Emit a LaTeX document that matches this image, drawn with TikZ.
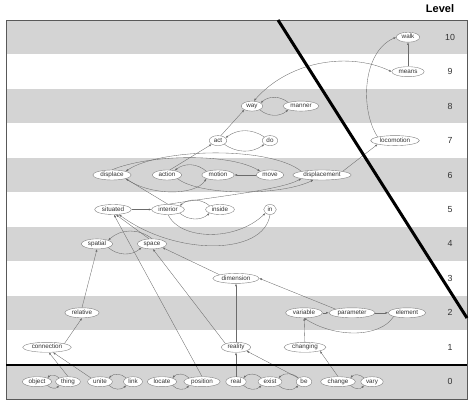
\documentclass[tikz,border=0pt]{standalone}
\usepackage{fontspec}
\setmainfont{Liberation Sans}
\usetikzlibrary{positioning,arrows.meta,shapes.geometric}

\begin{document}
\begin{tikzpicture}[x=1pt, y=-1pt, >={Latex[length=2.6pt,width=2pt]},
  word/.style={ellipse, draw=black!50, fill=white, line width=0.4pt,
    inner xsep=2pt, inner ysep=0.6pt, minimum height=10pt, minimum width=12pt,
    text height=4.5pt, text depth=1.2pt, font=\fontsize{6.3}{7}\selectfont, text=black!80},
  rel_style/.style={draw=black!58, line width=0.35pt},
  band_style/.style={fill=black!17},
  lvl/.style={font=\fontsize{8.8}{10}\selectfont, text=black!80}]
  \useasboundingbox (0,0) rectangle (474,403);

  % bands and frame
  \foreach \l in {0,2,...,10}
    \fill[band_style] (6,{20+(10-\l)*34.45}) rectangle (467,{20+(11-\l)*34.45});
  \draw[black!65, line width=0.8pt] (6,20) rectangle (467,399);
  \node[font=\bfseries\fontsize{11}{13}\selectfont] (title) at (440,9) {Level};
  \foreach \l in {0,...,10}
    \node[lvl] (l\l) at (450,{20+(10.5-\l)*34.45}) {\l};

  % concepts
  \node[word] (walk) at (408,37.2) {walk};
  \node[word] (means) at (408,71.7) {means};
  \node[word] (way) at (252,106.1) {way};
  \node[word] (manner) at (301,106.1) {manner};
  \node[word] (act) at (218,140.6) {act};
  \node[word] (do) at (270,140.6) {do};
  \node[word] (locomotion) at (395,140.6) {locomotion};
  \node[word] (displace) at (112,175) {displace};
  \node[word] (action) at (167,175) {action};
  \node[word] (motion) at (218,175) {motion};
  \node[word] (move) at (270,175) {move};
  \node[word] (displacement) at (322,175) {displacement};
  \node[word] (situated) at (113,209.5) {situated};
  \node[word] (interior) at (168,209.5) {interior};
  \node[word] (inside) at (220,209.5) {inside};
  \node[word] (in) at (270,209.5) {in};
  \node[word] (spatial) at (97,243.9) {spatial};
  \node[word] (space) at (152,243.9) {space};
  \node[word] (dimension) at (236,278.4) {dimension};
  \node[word] (relative) at (82,312.8) {relative};
  \node[word] (variable) at (304,312.8) {variable};
  \node[word] (parameter) at (352,312.8) {parameter};
  \node[word] (element) at (407,312.8) {element};
  \node[word] (connection) at (47,347.3) {connection};
  \node[word] (reality) at (236,347.3) {reality};
  \node[word] (changing) at (305,347.3) {changing};
  \node[word] (object) at (37,381.7) {object};
  \node[word] (thing) at (68,381.7) {thing};
  \node[word] (unite) at (100,381.7) {unite};
  \node[word] (link) at (133,381.7) {link};
  \node[word] (locate) at (162,381.7) {locate};
  \node[word] (position) at (202,381.7) {position};
  \node[word] (real) at (236,381.7) {real};
  \node[word] (exist) at (270,381.7) {exist};
  \node[word] (be) at (304,381.7) {be};
  \node[word] (change) at (338,381.7) {change};
  \node[word] (vary) at (372,381.7) {vary};

  % level 0
  \draw[rel_style,->] (thing.north west) to[bend right=50] (object.north east);
  \draw[rel_style,->] (object.south east) to[bend right=50] (thing.south west);
  \draw[rel_style,->] (link.north west) to[bend right=45] (unite.north east);
  \draw[rel_style,->] (unite.south east) to[bend right=45] (link.south west);
  \draw[rel_style,->] (position.north west) to[bend right=50] (locate.north east);
  \draw[rel_style,->] (locate.south east) to[bend right=50] (position.south west);
  \draw[rel_style,->] (exist.north west) to[bend right=45] (real.north east);
  \draw[rel_style,->] (real.south east) to[bend right=45] (exist.south west);
  \draw[rel_style,->] (be.north west) to[bend right=45] (exist.north east);
  \draw[rel_style,->] (exist.south east) to[bend right=45] (be.south west);
  \draw[rel_style,->] (vary.north west) to[bend right=50] (change.north east);
  \draw[rel_style,->] (change.south east) to[bend right=50] (vary.south west);

  % levels 1 to 4
  \draw[rel_style,->] (thing.north) -- (connection.-70);
  \draw[rel_style,->] (unite.north west) -- (connection.-40);
  \draw[rel_style,->] (connection.north east) -- (relative.south);
  \draw[rel_style,->] (relative.north) -- (spatial.south);
  \draw[rel_style,->] (position.north) -- (situated.-80);
  \draw[rel_style,->] (real) -- (reality);
  \draw[rel_style,->] (be.north west) -- (reality.south east);
  \draw[rel_style,->] (change.north) -- (changing.south east);
  \draw[rel_style,->] (changing) -- (variable);
  \draw[rel_style,->] (reality) -- (dimension);
  \draw[rel_style,->] (reality.north west) -- (space.-80);
  \draw[rel_style,->] (variable) -- (parameter);
  \draw[rel_style,->] (parameter) -- (element);
  \draw[rel_style,->] (element.south west) .. controls (380,338) and (335,338) .. (variable.south);
  \draw[rel_style,->] (parameter.north west) -- (dimension.east);
  \draw[rel_style,->] (dimension.north west) -- (space.south east);
  \draw[rel_style,->] (space.north) to[bend right=40] (spatial.north east);
  \draw[rel_style,->] (spatial.south east) to[bend right=40] (space.south west);
  \draw[rel_style,->] (space.120) -- (situated.-60);

  % level 5
  \draw[rel_style,->] (situated) -- (interior);
  \draw[rel_style,->] (inside.north west) to[bend right=40] (interior.north east);
  \draw[rel_style,->] (interior.south east) to[bend right=40] (inside.south west);
  \draw[rel_style,->] (interior.south) .. controls (180,240) and (235,242) .. (in.south west);
  \draw[rel_style,->] (in.south) .. controls (264,256) and (175,256) .. (situated.-40);
  \draw[rel_style,->] (interior.north) -- (displace.south east);
  \draw[rel_style,->] (interior.north) .. controls (220,196) and (280,190) .. (displacement.south west);

  % level 6
  \draw[rel_style,->] (action.60) -- (act.south west);
  \draw[rel_style,->] (motion.north west) to[bend right=40] (action.30);
  \draw[rel_style,->] (move) -- (motion);
  \draw[rel_style,->] (action.south east) .. controls (200,196) and (280,196) .. (displacement.-150);
  \draw[rel_style,->] (displace.south east) .. controls (150,196) and (195,196) .. (motion.south west);
  \draw[rel_style,->] (displacement.north west) .. controls (270,146) and (160,148) .. (displace.north east);
  \draw[rel_style,->] (displace.north) .. controls (150,154) and (230,153) .. (move.north west);
  \draw[rel_style,->] (displacement.north east) -- (locomotion.south west);

  % levels 7 to 10
  \draw[rel_style,->] (act.60) -- (way.south west);
  \draw[rel_style,->] (do.north west) to[bend right=35] (act.20);
  \draw[rel_style,->] (act.south east) to[bend right=35] (do.south west);
  \draw[rel_style,->] (manner.north west) to[bend right=40] (way.20);
  \draw[rel_style,->] (way.south east) to[bend right=40] (manner.south west);
  \draw[rel_style,<->] (way.70) .. controls (290,60) and (350,52) .. (means.west);
  \draw[rel_style,->] (means) -- (walk);
  \draw[rel_style,->] (locomotion.north west) .. controls (360,110) and (362,52) .. (walk.west);

  % dividing lines
  \draw[line width=3pt] (278,20) -- (467,318);
  \draw[line width=2.2pt] (6,365) -- (467,365);
\end{tikzpicture}
\end{document}
